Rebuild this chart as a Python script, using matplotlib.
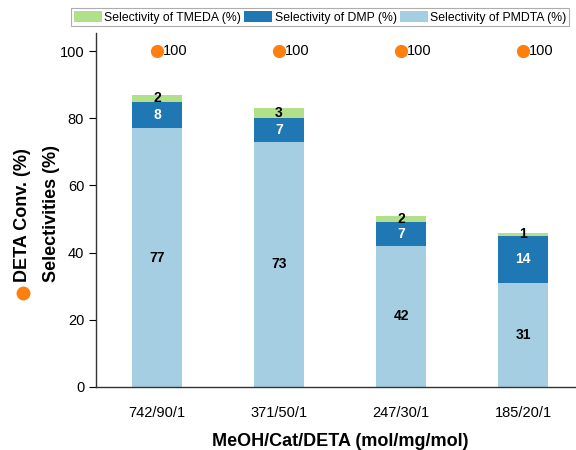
import matplotlib
matplotlib.use("Agg")
import matplotlib.pyplot as plt
import numpy as np

plt.rcParams['font.family'] = ['Liberation Sans', 'DejaVu Sans']

categories = ["742/90/1", "371/50/1", "247/30/1", "185/20/1"]
pmdta = [77, 73, 42, 31]
dmp = [8, 7, 7, 14]
tmeda = [2, 3, 2, 1]
conversion = [100, 100, 100, 100]

c_pmdta = "#a6cee3"
c_dmp = "#1f78b4"
c_tmeda = "#b2df8a"
c_conv = "#ff7f0e"

fig = plt.figure(figsize=(5.76, 4.5), dpi=100)
ax = fig.add_axes([96/576, 1-387/450, 488/576, (387-33)/450])

x = np.arange(len(categories))
w = 0.41
b1 = ax.bar(x, pmdta, w, color=c_pmdta, label="Selectivity of PMDTA (%)")
b2 = ax.bar(x, dmp, w, bottom=pmdta, color=c_dmp, label="Selectivity of DMP (%)")
bottom2 = np.array(pmdta) + np.array(dmp)
b3 = ax.bar(x, tmeda, w, bottom=bottom2, color=c_tmeda, label="Selectivity of TMEDA (%)")

ax.bar_label(b1, labels=[str(v) for v in pmdta], label_type='center', fontsize=10, fontweight='bold', color='black')
ax.bar_label(b2, labels=[str(v) for v in dmp], label_type='center', fontsize=10, fontweight='bold', color='white')
ax.bar_label(b3, labels=[str(v) for v in tmeda], label_type='center', fontsize=10, fontweight='bold', color='black')

ax.plot(x, conversion, 'o', color=c_conv, markersize=8.5, linestyle='none', clip_on=False)
for xi, v in zip(x, conversion):
    ax.annotate(str(v), (xi, v), xytext=(4.5, 0), textcoords='offset points',
                ha='left', va='center', fontsize=10.5)

ax.set_xlim(-0.5, 3.5)
ax.set_ylim(0, 105.4)
ax.set_yticks([0, 20, 40, 60, 80, 100])
ax.set_xticks(x)
ax.set_xticklabels(categories)
ax.tick_params(axis='x', length=0, pad=14, labelsize=10.5)
ax.tick_params(axis='y', length=5, width=0.8, labelsize=10.5, direction='out')
for s in ['top', 'right']:
    ax.spines[s].set_visible(False)
for s in ['left', 'bottom']:
    ax.spines[s].set_color('#333333')
    ax.spines[s].set_linewidth(1.0)

ax.set_xlabel("MeOH/Cat/DETA (mol/mg/mol)", fontsize=13, fontweight='bold', labelpad=9)

# y label: two lines with orange dot
fig.text(23/576, 1-215/450, "DETA Conv. (%)", rotation=90, ha='center', va='center',
         fontsize=13, fontweight='bold')
fig.text(51/576, 1-213/450, "Selectivities (%)", rotation=90, ha='center', va='center',
         fontsize=13, fontweight='bold')
fig.add_artist(plt.Line2D([23/576], [1-293/450], marker='o', color=c_conv, markersize=9,
                          transform=fig.transFigure, linestyle='none'))

handles = [b3, b2, b1]
leg = fig.legend(handles, [h.get_label() for h in handles], loc='upper right',
                 bbox_to_anchor=(569/576, 1-8.5/450), ncol=3, fontsize=8.8, frameon=True,
                 fancybox=False, edgecolor='#999999', handlelength=2.3, handleheight=1.0,
                 handletextpad=0.2, columnspacing=0.25, borderpad=0.2, borderaxespad=0)
leg.get_frame().set_linewidth(0.8)

fig.savefig("out.png", dpi=100)
